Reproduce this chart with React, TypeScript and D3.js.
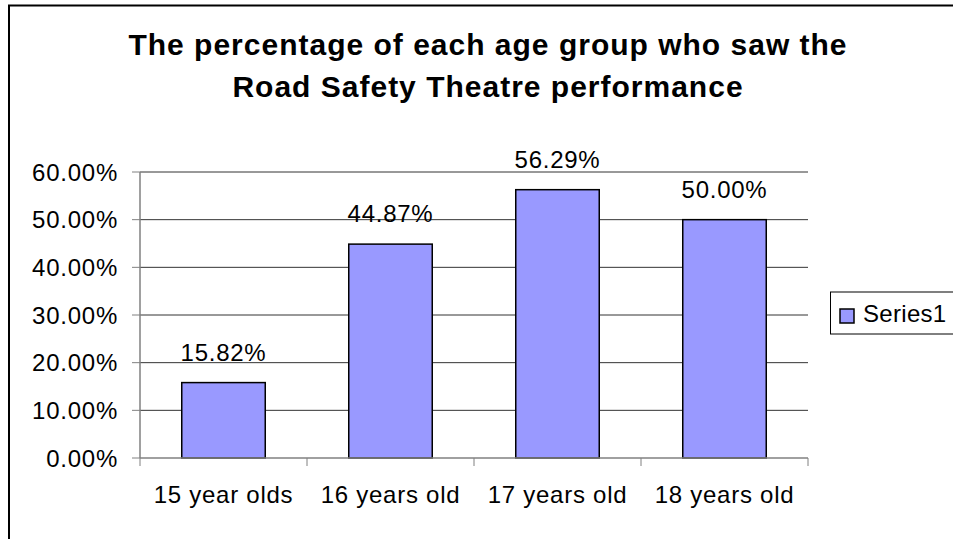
import React from "react";
import * as d3 from "d3";

const categories = ["15 year olds", "16 years old", "17 years old", "18 years old"];
const values = [15.82, 44.87, 56.29, 50.0];
const yTicks = [0, 10, 20, 30, 40, 50, 60];
const seriesName = "Series1";
const titleLines = ["The percentage of each age group who saw the", "Road Safety Theatre performance"];

const W = 953;
const H = 539;
const FONT = "'Liberation Sans', Arial, sans-serif";
const BAR = "#9999FF";

export default function App() {
  const plot = { left: 140, right: 808, top: 172, bottom: 458 };
  const x = d3.scaleBand<string>().domain(categories).range([plot.left, plot.right]).paddingInner(0.5).paddingOuter(0.25);
  const y = d3.scaleLinear().domain([0, 60]).range([plot.bottom, plot.top]);
  const step = (plot.right - plot.left) / categories.length;
  const bounds = d3.range(categories.length + 1).map((i) => plot.left + i * step);
  const fmt = (v: number) => v.toFixed(2) + "%";
  const ls = 0.75;

  return (
    <div style={{ position: "fixed", left: 0, top: 0 }}>
      <svg width={W} height={H} style={{ display: "block", background: "#fff" }} fontFamily={FONT}>
        <rect x={9} y={5.5} width={960} height={560} fill="#fff" stroke="#000" strokeWidth={2} />
        {titleLines.map((t, i) => (
          <text key={i} x={488} y={55 + i * 42} textAnchor="middle" fontSize={30} fontWeight="bold" fill="#000" letterSpacing={1}>
            {t}
          </text>
        ))}
        {yTicks.slice(1).map((t) => (
          <line key={"g" + t} x1={plot.left} x2={plot.right} y1={y(t)} y2={y(t)} stroke="#333" strokeWidth={1} />
        ))}
        {values.map((v, i) => (
          <rect
            key={"b" + i}
            x={x(categories[i])}
            y={y(v)}
            width={x.bandwidth()}
            height={y(0) - y(v)}
            fill={BAR}
            stroke="#000"
            strokeWidth={1.5}
          />
        ))}
        <line x1={plot.left} x2={plot.left} y1={plot.top} y2={plot.bottom} stroke="#808080" strokeWidth={1.5} />
        <line x1={plot.left} x2={plot.right} y1={plot.bottom} y2={plot.bottom} stroke="#808080" strokeWidth={1.5} />
        {yTicks.map((t) => (
          <g key={"t" + t}>
            <line x1={plot.left - 8} x2={plot.left} y1={y(t)} y2={y(t)} stroke="#808080" strokeWidth={1} />
            <text x={118} y={y(t)} dy="0.36em" textAnchor="end" fontSize={24} fill="#000" letterSpacing={ls}>
              {fmt(t)}
            </text>
          </g>
        ))}
        {bounds.map((b, i) => (
          <line key={"xt" + i} x1={b} x2={b} y1={plot.bottom} y2={plot.bottom + 8} stroke="#808080" strokeWidth={1} />
        ))}
        {categories.map((c) => (
          <text key={c} x={(x(c) as number) + x.bandwidth() / 2} y={503} textAnchor="middle" fontSize={24} fill="#000" letterSpacing={ls}>
            {c}
          </text>
        ))}
        {values.map((v, i) => (
          <text
            key={"l" + i}
            x={(x(categories[i]) as number) + x.bandwidth() / 2}
            y={y(v) - 22}
            textAnchor="middle"
            fontSize={24}
            fill="#000"
            letterSpacing={ls}
          >
            {fmt(v)}
          </text>
        ))}
        <rect x={830.5} y={292} width={140} height={42} fill="#fff" stroke="#000" strokeWidth={1} />
        <rect x={840} y={309} width={14} height={14} fill={BAR} stroke="#000" strokeWidth={1.5} />
        <text x={863} y={322} fontSize={24} fill="#000" letterSpacing={0.3}>
          {seriesName}
        </text>
      </svg>
    </div>
  );
}
